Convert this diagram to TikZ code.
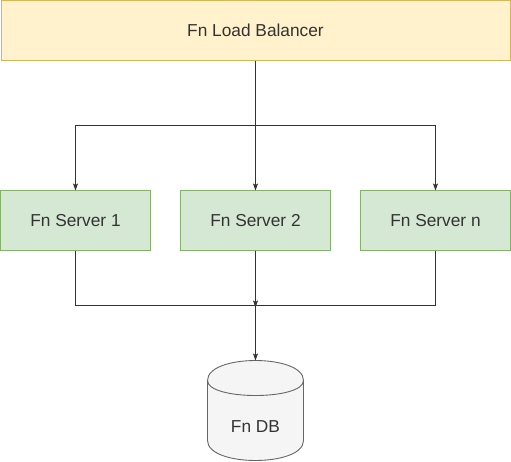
\documentclass[tikz,border=0pt]{standalone}
\usepackage{fontspec}
\setmainfont{Liberation Sans}
\usetikzlibrary{arrows.meta,calc}
\definecolor{lbfill}{HTML}{FFF2CC}
\definecolor{lbdraw}{HTML}{D6B656}
\definecolor{srvfill}{HTML}{D5E8D4}
\definecolor{srvdraw}{HTML}{82B366}
\definecolor{dbfill}{HTML}{F5F5F5}
\definecolor{dbdraw}{HTML}{666666}
\definecolor{txt}{HTML}{333333}
\definecolor{edge}{HTML}{333333}
\begin{document}
\begin{tikzpicture}[x=1pt,y=-1pt,
  every node/.style={font=\fontsize{17.3}{20}\selectfont, text=txt, inner sep=0pt, outer sep=0pt},
  lbbox/.style={draw=lbdraw, fill=lbfill, line width=0.9pt, minimum width=509pt, minimum height=60pt},
  srvbox/.style={draw=srvdraw, fill=srvfill, line width=0.9pt, minimum width=150pt, minimum height=60pt},
  conn/.style={draw=edge, line width=0.9pt},
  arr/.style={conn, -{Stealth[length=7pt,width=5pt,inset=1.5pt]}},
  dbline/.style={draw=dbdraw, line width=0.9pt}
]
\useasboundingbox (0,0) rectangle (511,461);
\node[lbbox] (lb) at (255.5,30.5) {Fn Load Balancer};
\node[srvbox] (s1) at (75.5,220.5) {Fn Server 1};
\node[srvbox] (s2) at (255.5,220.5) {Fn Server 2};
\node[srvbox] (sn) at (435.5,220.5) {Fn Server n};
\node[minimum width=96pt, minimum height=100pt] (db) at (255.5,410.5) {};
% cylinder
\def\dy{20}
\path[dbline, fill=dbfill]
  ($(db.north west)+(0,\dy)$)
  .. controls ($(db.north west)+(0,-\dy/3)$) and ($(db.north east)+(0,-\dy/3)$) .. ($(db.north east)+(0,\dy)$)
  -- ($(db.south east)+(0,-\dy)$)
  .. controls ($(db.south east)+(0,\dy/3)$) and ($(db.south west)+(0,\dy/3)$) .. ($(db.south west)+(0,-\dy)$)
  -- cycle;
\path[dbline]
  ($(db.north west)+(0,\dy)$)
  .. controls ($(db.north west)+(0,2*\dy)$) and ($(db.north east)+(0,2*\dy)$) .. ($(db.north east)+(0,\dy)$);
\node (dblabel) at (255.5,427) {Fn DB};
% top connectors
\coordinate (split) at (255.5,125);
\coordinate (split1) at (75.5,125);
\coordinate (splitn) at (435.5,125);
\path[conn] (lb.south) -- (split);
\path[conn] (split1) -- (splitn);
\path[arr] (split1) -- (s1.north);
\path[arr] (split) -- (s2.north);
\path[arr] (splitn) -- (sn.north);
% bottom connectors
\coordinate (merge) at (255.5,305);
\coordinate (merge1) at (75.5,305);
\coordinate (mergen) at (435.5,305);
\path[conn] (s1.south) -- (merge1) -- (mergen) -- (sn.south);
\path[arr] (s2.south) -- ($(merge)+(0,2.5)$);
\path[arr] (merge) -- (db.north);
\end{tikzpicture}
\end{document}
